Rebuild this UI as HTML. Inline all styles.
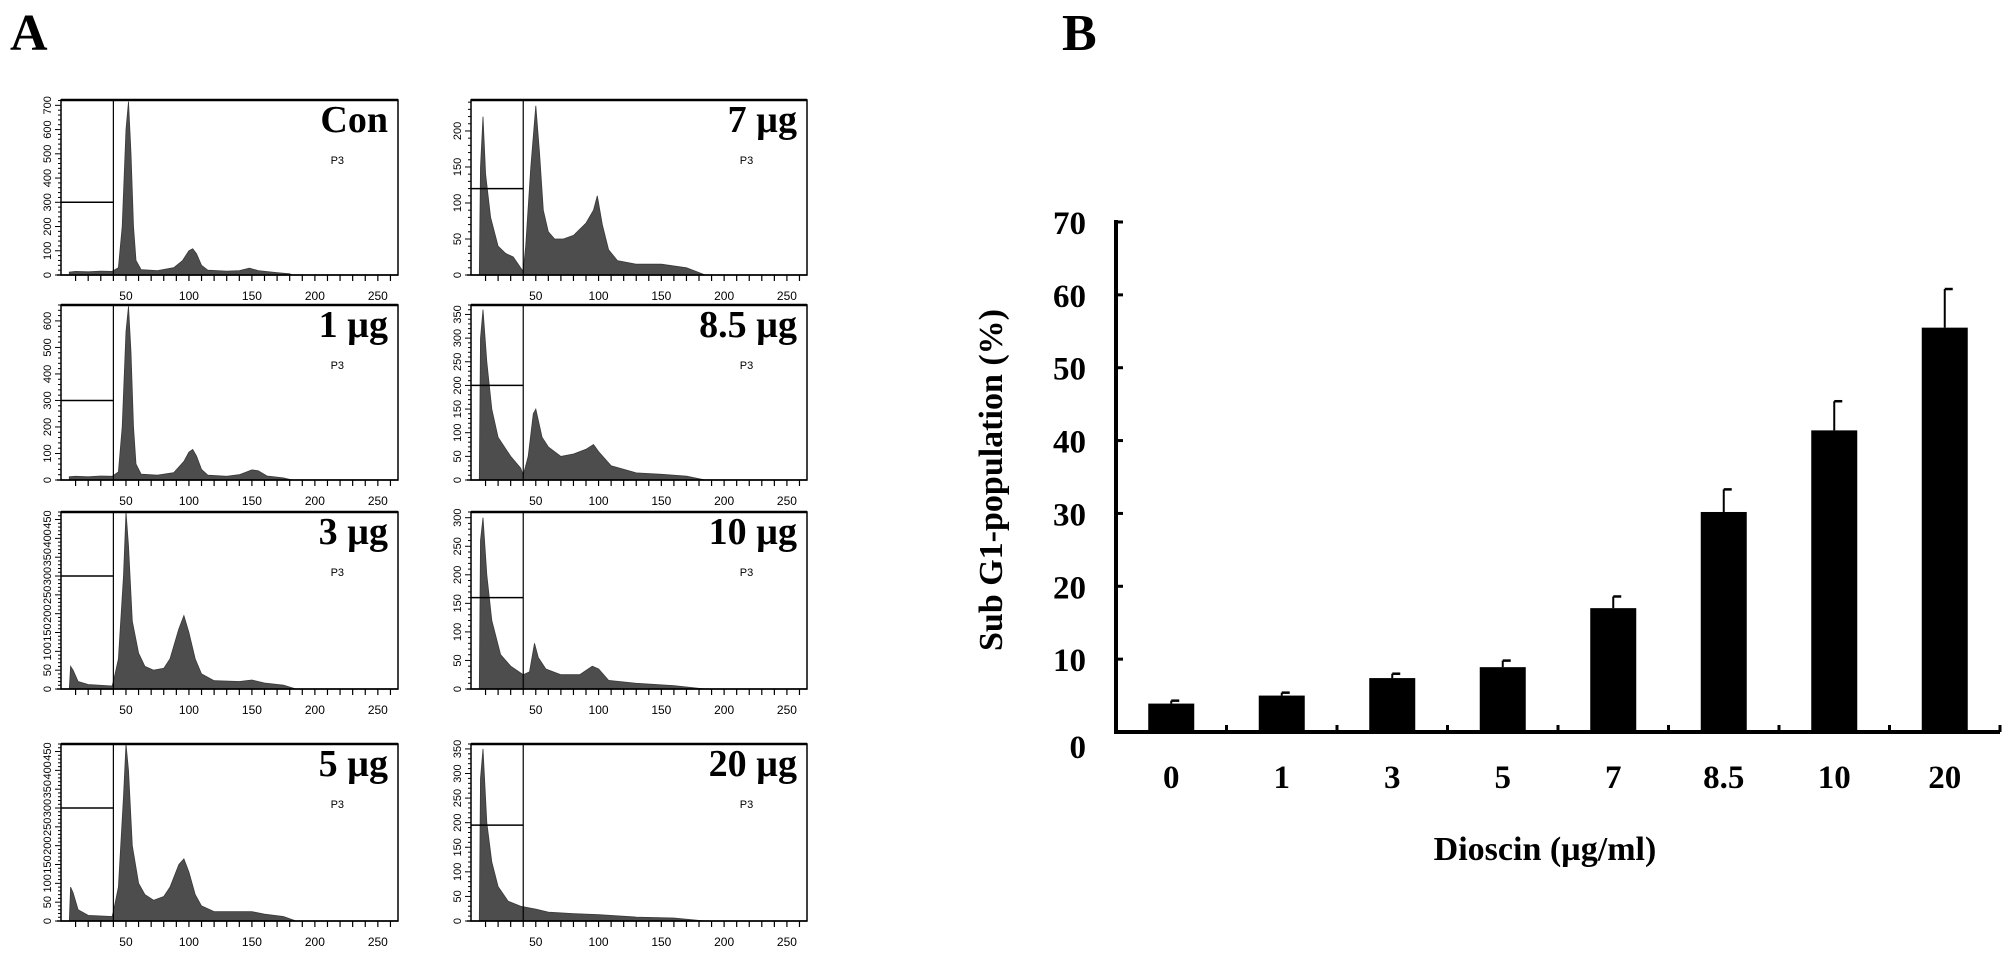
<!DOCTYPE html>
<html><head><meta charset="utf-8"><style>
html,body{margin:0;padding:0;background:#fff;}
svg{display:block;}
</style></head><body>
<svg id="fig" width="2008" height="961" viewBox="0 0 2008 961" xmlns="http://www.w3.org/2000/svg">
<text x="10" y="50" font-family="Liberation Serif, serif" font-weight="bold" font-size="52">A</text>
<text x="1062" y="50" font-family="Liberation Serif, serif" font-weight="bold" font-size="52">B</text>
<g id="hist"></g>
<g id="bars"></g>
</svg>
<script>
// ===== Bar chart data =====
const categories = ["0","1","3","5","7","8.5","10","20"];
const meanValues = [3.9, 5.0, 7.4, 8.9, 17.0, 30.2, 41.4, 55.5];
const errorValues = [0.4, 0.4, 0.6, 0.9, 1.6, 3.1, 4.0, 5.3];
const yTicks = [0,10,20,30,40,50,60,70];

// ===== Histogram data (control points: [channel, count]) =====
const panelLabels = ["Con","1 \u00b5g","3 \u00b5g","5 \u00b5g","7 \u00b5g","8.5 \u00b5g","10 \u00b5g","20 \u00b5g"];
const panelYMax = [722, 660, 470, 470, 243, 370, 310, 360];
const panelTickStep = [100, 100, 50, 50, 50, 50, 50, 50];
const panelTickMax = [700, 600, 450, 450, 200, 350, 300, 350];
const panelGateLevel = [300, 300, 300, 300, 120, 200, 160, 195];
const histCon = [[5,12],[10,15],[20,13],[30,16],[39,15],[44,30],[47,200],[50,600],[52,715],[54,500],[56,200],[58,60],[62,22],[75,18],[88,30],[95,60],[100,100],[103,108],[106,88],[110,40],[115,20],[130,16],[140,18],[148,28],[155,18],[170,10],[180,5],[182,0]];
const hist1 = [[5,12],[10,14],[20,12],[30,15],[39,14],[44,30],[47,200],[50,560],[52,655],[54,480],[56,200],[58,60],[62,22],[75,18],[88,28],[96,70],[100,105],[103,115],[106,90],[110,40],[115,18],[130,14],[140,20],[150,38],[155,35],[162,15],[175,8],[182,0]];
const hist3 = [[5,0],[6,60],[8,50],[12,20],[20,12],[39,8],[40,20],[44,80],[48,300],[50,470],[52,380],[55,180],[60,95],[65,60],[72,50],[80,55],[85,80],[92,160],[96,195],[100,150],[105,80],[110,40],[120,22],[140,20],[150,24],[160,16],[175,10],[185,0]];
const hist5 = [[5,0],[6,90],[8,75],[12,30],[20,15],[39,12],[40,25],[44,90],[48,330],[50,470],[52,400],[55,200],[60,100],[65,70],[72,55],[80,65],[85,90],[92,150],[96,165],[100,130],[105,70],[110,40],[120,25],[140,25],[150,25],[160,18],[175,12],[185,0]];
const hist7 = [[5,0],[6,150],[8,220],[10,140],[14,80],[20,40],[26,30],[32,25],[38,10],[40,5],[42,40],[46,150],[50,235],[53,170],[56,90],[60,60],[65,50],[72,50],[80,55],[90,72],[96,90],[99,110],[103,70],[108,35],[115,20],[130,15],[150,15],[170,10],[185,0]];
const hist85 = [[5,0],[6,300],[8,360],[11,250],[15,150],[20,90],[30,50],[38,25],[40,10],[44,50],[48,140],[50,150],[55,90],[60,70],[70,50],[80,55],[90,65],[96,75],[100,60],[110,30],[130,15],[150,12],[170,8],[185,0]];
const hist10 = [[5,0],[6,260],[8,300],[11,200],[15,120],[22,60],[30,40],[40,25],[45,30],[49,80],[52,55],[58,35],[70,25],[85,25],[95,40],[100,35],[108,15],[130,10],[160,6],[185,0]];
const hist20 = [[5,0],[6,290],[8,350],[11,200],[15,120],[20,70],[28,40],[38,30],[50,24],[60,18],[80,15],[100,13],[130,8],[160,6],[185,0]];
const histSeries = [histCon, hist1, hist3, hist5, hist7, hist85, hist10, hist20];

const NS = "http://www.w3.org/2000/svg";
function mk(tag, attrs, parent){
  const e = document.createElementNS(NS, tag);
  for (const k in attrs) e.setAttribute(k, attrs[k]);
  parent.appendChild(e);
  return e;
}

// ===== Histogram panels =====
const hg = document.getElementById('hist');
const colX = [[61,398],[471,807]];
const rowY = [[100,275],[305,480],[512,689],[744,921]];
for (let i = 0; i < 8; i++) {
  const col = i < 4 ? 0 : 1, row = i % 4;
  const L = colX[col][0], R = colX[col][1], T = rowY[row][0], B = rowY[row][1];
  const W = R - L, H = B - T;
  const xs = ch => L + 2 + ch * (W - 2) / 266;
  const ys = v => B - v * H / panelYMax[i];
  const g = mk('g', {}, hg);
  
  
  const pts = histSeries[i];
  let d = 'M' + xs(pts[0][0]) + ',' + B;
  pts.forEach(p => { d += ' L' + xs(p[0]).toFixed(1) + ',' + Math.max(T, ys(p[1])).toFixed(1); });
  d += ' L' + xs(pts[pts.length-1][0]) + ',' + B + ' Z';
  const area = mk('path', {d: d, fill: '#4d4d4d', stroke: '#3a3a3a', 'stroke-width': 0.8}, g);
  
  
  const fr = mk('rect', {x: L, y: T, width: W, height: H, fill: 'none', stroke: '#000', 'stroke-width': 1.5}, g);
  
  
  mk('line', {x1: L, y1: T, x2: R, y2: T, stroke: '#000', 'stroke-width': 2.5}, g);
  const gx = xs(40);
  const gl = mk('line', {x1: gx, y1: T, x2: gx, y2: B, stroke: '#000', 'stroke-width': 1.2}, g);
  
  
  mk('line', {x1: L, y1: ys(panelGateLevel[i]), x2: gx, y2: ys(panelGateLevel[i]), stroke: '#000', 'stroke-width': 1.5}, g);
  mk('line', {x1: L - 4, y1: B, x2: R, y2: B, stroke: '#000', 'stroke-width': 1.5}, g);
  for (let c = 10; c <= 260; c += 10) {
    mk('line', {x1: xs(c), y1: B, x2: xs(c), y2: B + 6, stroke: '#000', 'stroke-width': 1.2}, g);
  }
  [50,100,150,200,250].forEach(c => {
    const t = mk('text', {x: xs(c), y: B + 25, 'font-family': 'Liberation Sans Narrow, Liberation Sans, sans-serif', 'font-size': 12, 'text-anchor': 'middle'}, g);
    t.textContent = c;
    
    
  });
  const minor = panelTickStep[i] / 5;
  for (let v = 0; v <= panelYMax[i]; v += minor) {
    const major = Math.abs(v % panelTickStep[i]) < 0.01;
    mk('line', {x1: L - (major ? 6 : 3), y1: ys(v), x2: L, y2: ys(v), stroke: '#000', 'stroke-width': 1}, g);
  }
  for (let v = 0; v <= panelTickMax[i]; v += panelTickStep[i]) {
    const yy = ys(v);
    const t = mk('text', {x: L - 10, y: yy, 'font-family': 'Liberation Sans Narrow, Liberation Sans, sans-serif', 'font-size': 11, 'text-anchor': 'middle', transform: 'rotate(-90 ' + (L - 10) + ' ' + yy + ')'}, g);
    t.textContent = v;
    
    
  }
  const lab = mk('text', {x: R - 10, y: T + 32, 'font-family': 'Liberation Serif, serif', 'font-weight': 'bold', 'font-size': 38, 'text-anchor': 'end'}, g);
  lab.textContent = panelLabels[i];
  
  
  const p3 = mk('text', {x: L + W * 0.82, y: T + 64, 'font-family': 'Liberation Sans Narrow, Liberation Sans, sans-serif', 'font-size': 11, 'text-anchor': 'middle'}, g);
  p3.textContent = 'P3';
  
  
}

// ===== Bar chart =====
const bg = document.getElementById('bars');
const AX = 1116, AXR = 2000, Y0 = 732, YTOP = 222, YMAX = 70;
const slot = (AXR - AX) / categories.length;
const yScale = v => Y0 - v * (Y0 - YTOP) / YMAX;
const xCenter = i => AX + slot * (i + 0.5);
const barW = 46;

meanValues.forEach((v, i) => {
  const cx = xCenter(i);
  const top = yScale(v), et = yScale(v + errorValues[i]);
  const el = mk('line', {x1: cx, y1: et, x2: cx, y2: top, stroke: '#000', 'stroke-width': 2}, bg);
  
  
  mk('line', {x1: cx, y1: et, x2: cx + 8, y2: et, stroke: '#000', 'stroke-width': 2.5}, bg);
  const r = mk('rect', {x: cx - barW / 2, y: top, width: barW, height: Y0 - top, fill: '#000'}, bg);
  
  
  const t = mk('text', {x: cx, y: 788, 'font-family': 'Liberation Serif, serif', 'font-weight': 'bold', 'font-size': 33, 'text-anchor': 'middle'}, bg);
  t.textContent = categories[i];
  
  
});
const ya = mk('line', {x1: AX, y1: YTOP - 2, x2: AX, y2: Y0 + 2, stroke: '#000', 'stroke-width': 4}, bg);


const xa = mk('line', {x1: AX - 2, y1: Y0, x2: AXR, y2: Y0, stroke: '#000', 'stroke-width': 4}, bg);


for (let i = 1; i <= categories.length; i++) {
  mk('line', {x1: AX + slot * i, y1: Y0, x2: AX + slot * i, y2: Y0 - 7, stroke: '#000', 'stroke-width': 3}, bg);
}
yTicks.forEach(v => {
  const yy = yScale(v);
  mk('line', {x1: AX, y1: yy, x2: AX + 7, y2: yy, stroke: '#000', 'stroke-width': 3}, bg);
  const t = mk('text', {x: AX - 30, y: (v === 0 ? yy + 26 : yy + 12), 'font-family': 'Liberation Serif, serif', 'font-weight': 'bold', 'font-size': 33, 'text-anchor': 'end'}, bg);
  t.textContent = v;
  
  
});
const xt = mk('text', {x: 1545, y: 860, 'font-family': 'Liberation Serif, serif', 'font-weight': 'bold', 'font-size': 34, 'text-anchor': 'middle'}, bg);
xt.textContent = 'Dioscin (\u00b5g/ml)';


const yt = mk('text', {x: 1002, y: 480, 'font-family': 'Liberation Serif, serif', 'font-weight': 'bold', 'font-size': 34, 'text-anchor': 'middle', transform: 'rotate(-90 1002 480)'}, bg);
yt.textContent = 'Sub G1-population (%)';


</script>
</body></html>
